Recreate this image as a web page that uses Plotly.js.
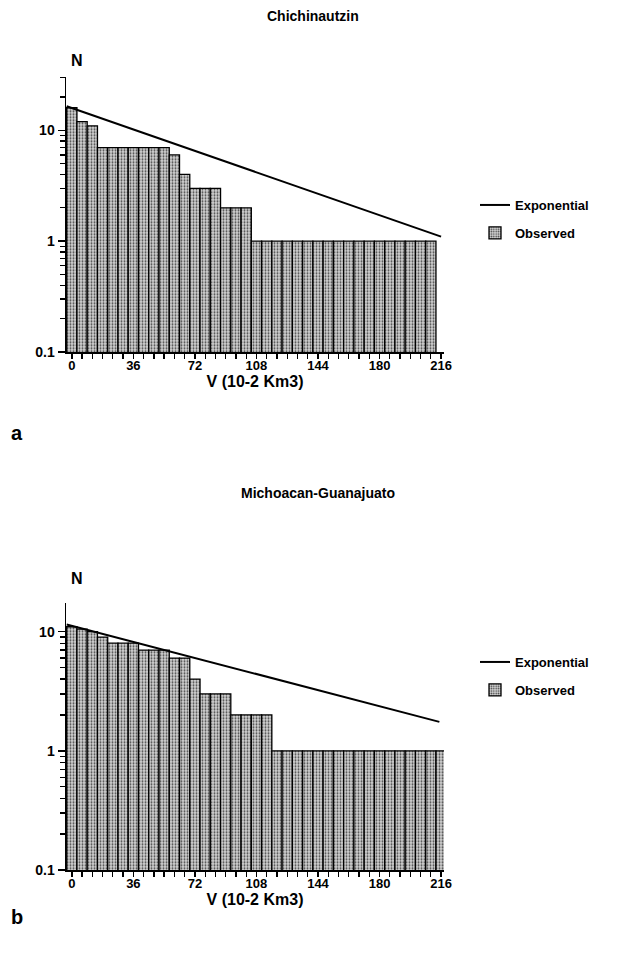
<!DOCTYPE html>
<html><head><meta charset="utf-8">
<script src="https://cdn.plot.ly/plotly-3.0.1.min.js"></script>
<style>html,body{margin:0;padding:0;background:#fff}#chart{width:621px;height:962px}</style>
</head><body><div id="chart"></div>
<script>
// ---- data ----
const titleA = "Chichinautzin";
const titleB = "Michoacan-Guanajuato";
const xLabel = "V (10-2 Km3)";
const xTickVals = [0, 36, 72, 108, 144, 180, 216];
const yTickVals = [0.1, 1, 10];
const yTickText = ["0.1", "1", "10"];

// a) Chichinautzin : observed N per volume bin (bin width 6)
const binA = [0,6,12,18,24,30,36,42,48,54,60,66,72,78,84,90,96,102,108,114,120,126,132,138,144,150,156,162,168,174,180,186,192,198,204,210];
const obsA = [16,12,11,7,7,7,7,7,7,7,6,4,3,3,3,2,2,2,1,1,1,1,1,1,1,1,1,1,1,1,1,1,1,1,1,1];
const expXA = [-3, 216];
const expYA = [16.5, 1.1];

// b) Michoacan-Guanajuato
const binB = [0,6,12,18,24,30,36,42,48,54,60,66,72,78,84,90,96,102,108,114,120,126,132,138,144,150,156,162,168,174,180,186,192,198,204,210,216];
const obsB = [11,10.5,10,9,8,8,8,7,7,7,6,6,4,3,3,3,2,2,2,2,1,1,1,1,1,1,1,1,1,1,1,1,1,1,1,1,1];
const expXB = [-3, 215];
const expYB = [11.5, 1.75];

// ---- styling ----
const F = "Liberation Sans, Arial, sans-serif";
const barMarker = {
  color: "#c8c8c8",
  pattern: {shape: ".", fgcolor: "#444", bgcolor: "#d4d4d4", size: 3, solidity: 0.35},
  line: {color: "#000", width: 1.3}
};
function minorVals(max){ const v=[]; for (const d of [0.1,1,10]) for (let k=2;k<=9;k++){ if (k*d<=max) v.push(k*d);} return v; }

const traces = [
  {type:"scatter", mode:"lines", x:expXA, y:expYA, xaxis:"x", yaxis:"y", name:"Exponential", legend:"legend", legendgroup:"e",
   line:{color:"#000", width:2}},
  {type:"bar", x:binA, y:obsA, width:6, xaxis:"x", yaxis:"y", name:"Observed", legend:"legend", legendgroup:"o", marker:barMarker},
  {type:"scatter", mode:"lines", x:expXB, y:expYB, xaxis:"x2", yaxis:"y2", name:"Exponential", legend:"legend2", legendgroup:"e2",
   line:{color:"#000", width:2}},
  {type:"bar", x:binB, y:obsB, width:6, xaxis:"x2", yaxis:"y2", name:"Observed", legend:"legend2", legendgroup:"o2", marker:barMarker}
];

function xax(anchor){ return {
  domain:[66/621, 444/621], range:[-3.4, 217.7], anchor:anchor,
  tickvals:xTickVals, ticks:"outside", ticklen:5, tickwidth:1.5, tickcolor:"#000", ticklabelstandoff:-4,
  minor:{ticks:"outside", dtick:6, tick0:0, ticklen:5, tickwidth:1.3, tickcolor:"#000"},
  showline:true, linecolor:"#000", linewidth:1.5, showgrid:false, zeroline:false,
  tickfont:{family:F, size:13, weight:"bold", color:"#000"},
  title:{text:xLabel, font:{family:F, size:16, weight:"bold", color:"#000"}, standoff:2}
};}
function yax(anchor, dom, top){ return {
  type:"log", domain:dom, range:[-1, Math.log10(top)], anchor:anchor,
  tickvals:yTickVals, ticktext:yTickText, ticks:"outside", ticklen:7, tickwidth:1.5, tickcolor:"#000",
  minor:{ticks:"outside", tickvals:minorVals(top), ticklen:5, tickwidth:1.3, tickcolor:"#000"},
  showline:true, linecolor:"#000", linewidth:1.5, showgrid:false, zeroline:false,
  tickfont:{family:F, size:14, weight:"bold", color:"#000"}
};}

const legendBase = {font:{family:F, size:13, weight:"bold", color:"#000"}, bgcolor:"rgba(0,0,0,0)",
  itemwidth:30, tracegroupgap:8, xanchor:"left", yanchor:"top"};

function ann(text, x, y, size){ return {text:text, xref:"paper", yref:"paper", x:x/621, y:1-y/962,
  xanchor:"center", yanchor:"middle", showarrow:false, font:{family:F, size:size, weight:"bold", color:"#000"}}; }

const layout = {
  width:621, height:962, margin:{l:0, r:0, t:0, b:0},
  paper_bgcolor:"#fff", plot_bgcolor:"#fff", bargap:0,
  xaxis: xax("y"), yaxis: yax("x", [1-352/962, 1-76.7/962], 30.5),
  xaxis2: xax("y2"), yaxis2: yax("x2", [1-870/962, 1-602.7/962], 17.5),
  legend: Object.assign({x:475/621, y:1-190/962}, legendBase),
  legend2: Object.assign({x:475/621, y:1-647/962}, legendBase),
  annotations:[
    ann(titleA, 313, 16, 14),
    ann(titleB, 318, 493, 14),
    ann("N", 77, 60, 16),
    ann("N", 77, 578, 16),
    ann("a", 17, 433, 20),
    ann("b", 17, 917, 20)
  ]
};

Plotly.newPlot("chart", traces, layout, {displayModeBar:false, staticPlot:true});
</script></body></html>
